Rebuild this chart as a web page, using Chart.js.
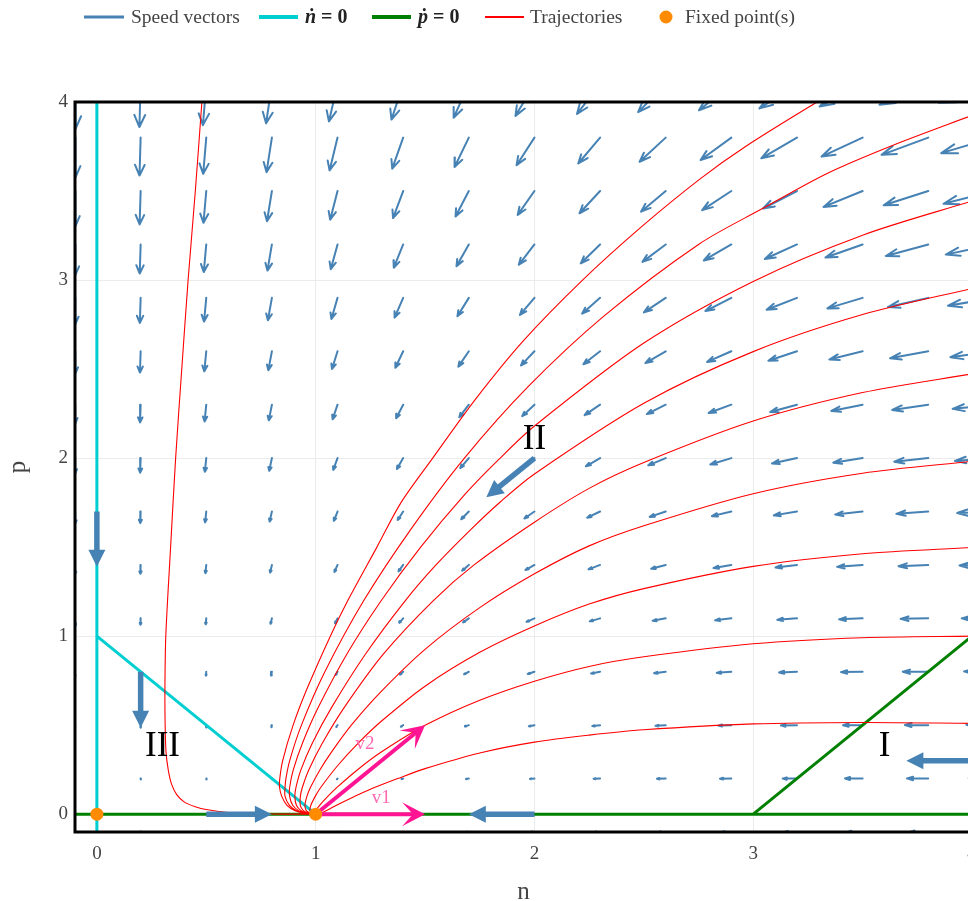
<!DOCTYPE html>
<html lang="en">
<head>
<meta charset="utf-8">
<title>Phase portrait (n, p)</title>
<script src="https://cdn.jsdelivr.net/npm/chart.js@4.4.1/dist/chart.umd.min.js"></script>
<style>
  html, body { margin: 0; padding: 0; background: #fff; overflow: hidden; }
  #frame { width: 968px; height: 901px; overflow: hidden; }
  #phase { display: block; }
</style>
</head>
<body>
<div id="frame"><canvas id="phase" width="1000" height="901" style="width:1000px;height:901px"></canvas></div>
<script>
// ---- grid of the speed field (arrow tails) ----
const gridN = [-0.1, 0.2, 0.5, 0.8, 1.1, 1.4, 1.7, 2.0, 2.3, 2.6, 2.9, 3.2, 3.5, 3.8, 4.1];
const gridP = [-0.1, 0.2, 0.5, 0.8, 1.1, 1.4, 1.7, 2.0, 2.3, 2.6, 2.9, 3.2, 3.5, 3.8, 4.1];

// speed along n (one row per p value of gridP, columns follow gridN)
const speedN = [
  [-0.12, 0.18, 0.3, 0.24, 0, -0.42, -1.02, -1.8, -2.76, -3.9, -5.22, -6.72, -8.4, -10.26, -12.3],
  [-0.09, 0.12, 0.15, 0, -0.33, -0.84, -1.53, -2.4, -3.45, -4.68, -6.09, -7.68, -9.45, -11.4, -13.53],
  [-0.06, 0.06, 0, -0.24, -0.66, -1.26, -2.04, -3, -4.14, -5.46, -6.96, -8.64, -10.5, -12.54, -14.76],
  [-0.03, 0, -0.15, -0.48, -0.99, -1.68, -2.55, -3.6, -4.83, -6.24, -7.83, -9.6, -11.55, -13.68, -15.99],
  [0, -0.06, -0.3, -0.72, -1.32, -2.1, -3.06, -4.2, -5.52, -7.02, -8.7, -10.56, -12.6, -14.82, -17.22],
  [0.03, -0.12, -0.45, -0.96, -1.65, -2.52, -3.57, -4.8, -6.21, -7.8, -9.57, -11.52, -13.65, -15.96, -18.45],
  [0.06, -0.18, -0.6, -1.2, -1.98, -2.94, -4.08, -5.4, -6.9, -8.58, -10.44, -12.48, -14.7, -17.1, -19.68],
  [0.09, -0.24, -0.75, -1.44, -2.31, -3.36, -4.59, -6, -7.59, -9.36, -11.31, -13.44, -15.75, -18.24, -20.91],
  [0.12, -0.3, -0.9, -1.68, -2.64, -3.78, -5.1, -6.6, -8.28, -10.14, -12.18, -14.4, -16.8, -19.38, -22.14],
  [0.15, -0.36, -1.05, -1.92, -2.97, -4.2, -5.61, -7.2, -8.97, -10.92, -13.05, -15.36, -17.85, -20.52, -23.37],
  [0.18, -0.42, -1.2, -2.16, -3.3, -4.62, -6.12, -7.8, -9.66, -11.7, -13.92, -16.32, -18.9, -21.66, -24.6],
  [0.21, -0.48, -1.35, -2.4, -3.63, -5.04, -6.63, -8.4, -10.35, -12.48, -14.79, -17.28, -19.95, -22.8, -25.83],
  [0.24, -0.54, -1.5, -2.64, -3.96, -5.46, -7.14, -9, -11.04, -13.26, -15.66, -18.24, -21, -23.94, -27.06],
  [0.27, -0.6, -1.65, -2.88, -4.29, -5.88, -7.65, -9.6, -11.73, -14.04, -16.53, -19.2, -22.05, -25.08, -28.29],
  [0.3, -0.66, -1.8, -3.12, -4.62, -6.3, -8.16, -10.2, -12.42, -14.82, -17.4, -20.16, -23.1, -26.22, -29.52]
];

// speed along p (same layout)
const speedP = [
  [0.3, 0.27, 0.24, 0.21, 0.18, 0.15, 0.12, 0.09, 0.06, 0.03, 0, -0.03, -0.06, -0.09, -0.12],
  [-0.66, -0.6, -0.54, -0.48, -0.42, -0.36, -0.3, -0.24, -0.18, -0.12, -0.06, 0, 0.06, 0.12, 0.18],
  [-1.8, -1.65, -1.5, -1.35, -1.2, -1.05, -0.9, -0.75, -0.6, -0.45, -0.3, -0.15, 0, 0.15, 0.3],
  [-3.12, -2.88, -2.64, -2.4, -2.16, -1.92, -1.68, -1.44, -1.2, -0.96, -0.72, -0.48, -0.24, 0, 0.24],
  [-4.62, -4.29, -3.96, -3.63, -3.3, -2.97, -2.64, -2.31, -1.98, -1.65, -1.32, -0.99, -0.66, -0.33, 0],
  [-6.3, -5.88, -5.46, -5.04, -4.62, -4.2, -3.78, -3.36, -2.94, -2.52, -2.1, -1.68, -1.26, -0.84, -0.42],
  [-8.16, -7.65, -7.14, -6.63, -6.12, -5.61, -5.1, -4.59, -4.08, -3.57, -3.06, -2.55, -2.04, -1.53, -1.02],
  [-10.2, -9.6, -9, -8.4, -7.8, -7.2, -6.6, -6, -5.4, -4.8, -4.2, -3.6, -3, -2.4, -1.8],
  [-12.42, -11.73, -11.04, -10.35, -9.66, -8.97, -8.28, -7.59, -6.9, -6.21, -5.52, -4.83, -4.14, -3.45, -2.76],
  [-14.82, -14.04, -13.26, -12.48, -11.7, -10.92, -10.14, -9.36, -8.58, -7.8, -7.02, -6.24, -5.46, -4.68, -3.9],
  [-17.4, -16.53, -15.66, -14.79, -13.92, -13.05, -12.18, -11.31, -10.44, -9.57, -8.7, -7.83, -6.96, -6.09, -5.22],
  [-20.16, -19.2, -18.24, -17.28, -16.32, -15.36, -14.4, -13.44, -12.48, -11.52, -10.56, -9.6, -8.64, -7.68, -6.72],
  [-23.1, -22.05, -21, -19.95, -18.9, -17.85, -16.8, -15.75, -14.7, -13.65, -12.6, -11.55, -10.5, -9.45, -8.4],
  [-26.22, -25.08, -23.94, -22.8, -21.66, -20.52, -19.38, -18.24, -17.1, -15.96, -14.82, -13.68, -12.54, -11.4, -10.26],
  [-29.52, -28.29, -27.06, -25.83, -24.6, -23.37, -22.14, -20.91, -19.68, -18.45, -17.22, -15.99, -14.76, -13.53, -12.3]
];

// ---- nullclines, as [n, p] vertices ----
const nNullAxis = [[0, -0.1], [0, 4.0]];
const nNullLine = [[0, 1], [1, 0]];
const pNullAxis = [[-0.1, 0], [4.0, 0]];
const pNullLine = [[3, 0], [4, 1]];

// ---- fixed points ----
const fixedN = [0, 1];
const fixedP = [0, 0];

// ---- trajectories, as [n, p] samples ----
const trajLeft = [[0.486, 4.1], [0.48, 4.0], [0.45, 3.5], [0.417, 3.0], [0.388, 2.5], [0.36, 2.0], [0.337, 1.5], [0.315, 1.0], [0.311, 0.7], [0.312, 0.5], [0.316, 0.35], [0.326, 0.25], [0.341, 0.17], [0.365, 0.11], [0.40, 0.068], [0.45, 0.042], [0.5, 0.026], [0.6, 0.0095], [0.7, 0.0034], [0.8, 0.0011], [0.9, 0.0003], [1, 0]];
const trajTop = [[3.43, 4.1], [3.292, 4.0], [2.965, 3.75], [2.756, 3.567], [2.49, 3.3], [2.22, 3.0], [1.95, 2.66], [1.73, 2.33], [1.535, 2.0], [1.39, 1.75], [1.28, 1.5], [1.147, 1.2], [1.067, 1.0], [0.959, 0.7], [0.897, 0.5], [0.849, 0.3], [0.836, 0.2], [0.835, 0.15], [0.845, 0.1], [0.869, 0.05], [0.906, 0.02], [0.948, 0.005], [0.975, 0.001], [1, 0]];
const traj40 = [[4.0, 3.925], [3.645, 3.76], [3.34, 3.6], [3.04, 3.4], [2.75, 3.2], [2.32, 2.8], [1.97, 2.4], [1.68, 2.0], [1.435, 1.6], [1.22, 1.2], [1.042, 0.8], [0.935, 0.5], [0.881, 0.3], [0.864, 0.2], [0.86, 0.15], [0.86, 0.1], [0.88, 0.05], [0.913, 0.02], [0.951, 0.005], [0.977, 0.001], [1, 0]];
const traj35 = [[4.0, 3.444], [3.5, 3.252], [3.0, 2.992], [2.5, 2.646], [2.0, 2.18], [1.835, 1.99], [1.685, 1.8], [1.48, 1.5], [1.30, 1.2], [1.143, 0.9], [1.012, 0.6], [0.94, 0.4], [0.898, 0.25], [0.881, 0.15], [0.881, 0.1], [0.895, 0.05], [0.922, 0.02], [0.956, 0.005], [0.979, 0.001], [1, 0]];
const traj30 = [[4.0, 2.953], [3.5, 2.806], [3.0, 2.598], [2.5, 2.308], [2.0, 1.911], [1.845, 1.755], [1.71, 1.6], [1.55, 1.4], [1.41, 1.2], [1.228, 0.9], [1.073, 0.6], [0.985, 0.4], [0.933, 0.25], [0.91, 0.15], [0.905, 0.1], [0.912, 0.05], [0.933, 0.02], [0.961, 0.005], [0.981, 0.001], [1, 0]];
const traj25 = [[4.0, 2.473], [3.5, 2.368], [3.0, 2.208], [2.5, 1.975], [2.25, 1.83], [2.0, 1.64], [1.724, 1.4], [1.538, 1.2], [1.31, 0.9], [1.131, 0.6], [1.031, 0.4], [0.969, 0.25], [0.939, 0.15], [0.93, 0.1], [0.93, 0.05], [0.944, 0.02], [0.967, 0.005], [0.984, 0.001], [1, 0]];
const traj20 = [[4.0, 1.982], [3.5, 1.915], [3.0, 1.80], [2.5, 1.62], [2.25, 1.507], [2.0, 1.35], [1.75, 1.16], [1.5, 0.926], [1.3, 0.69], [1.163, 0.5], [1.073, 0.35], [1.02, 0.25], [0.976, 0.15], [0.96, 0.1], [0.951, 0.05], [0.957, 0.02], [0.974, 0.005], [0.987, 0.001], [1, 0]];
const traj15 = [[4.0, 1.498], [3.5, 1.463], [3.0, 1.392], [2.5, 1.267], [2.25, 1.18], [2.0, 1.057], [1.75, 0.909], [1.5, 0.719], [1.3, 0.522], [1.2, 0.406], [1.1, 0.272], [1.023, 0.15], [0.998, 0.1], [0.978, 0.05], [0.974, 0.02], [0.982, 0.005], [0.991, 0.001], [1, 0]];
const traj10 = [[4.0, 1.0], [3.5, 0.991], [3.0, 0.957], [2.5, 0.884], [2.25, 0.83], [2.0, 0.747], [1.75, 0.64], [1.5, 0.499], [1.3, 0.349], [1.2, 0.258], [1.1, 0.153], [1.05, 0.093], [1.018, 0.05], [1.0, 0.02], [0.995, 0.005], [0.9965, 0.001], [1, 0]];
const traj05 = [[4.0, 0.51], [3.5, 0.515], [3.0, 0.507], [2.5, 0.474], [2.25, 0.444], [2.0, 0.405], [1.75, 0.344], [1.5, 0.256], [1.375, 0.2], [1.25, 0.14], [1.175, 0.098], [1.1, 0.053], [1.05, 0.021], [1.02, 0.0052], [1, 0]];
const trajectories = [trajLeft, trajTop, traj40, traj35, traj30, traj25, traj20, traj15, traj10, traj05];

// ---- direction-of-flow arrows: [tailN, tailP, tipN, tipP] ----
const flowArrows = [
  [0, 1.70, 0, 1.39],
  [0.2, 0.80, 0.2, 0.485],
  [0.5, 0, 0.8, 0],
  [2.0, 0, 1.7, 0],
  [2.0, 2.0, 1.78, 1.78],
  [4.0, 0.3, 3.7, 0.3]
];

// ---- eigenvectors at (1, 0) ----
const eigenArrows = [
  [1, 0, 1.5, 0],
  [1, 0, 1.5, 0.5]
];
const eigenNames = ['v1', 'v2'];
const eigenLabelN = [1.3, 1.225];
const eigenLabelP = [0.09, 0.395];

// ---- region names ----
const regionNames = ['I', 'II', 'III'];
const regionN = [3.6, 2.0, 0.3];
const regionP = [0.378, 2.1, 0.378];

// ---- axis ticks ----
const xTicks = [0, 1, 2, 3, 4];
const yTicks = [0, 1, 2, 3, 4];

// ================= drawing =================
const SERIF = "'Liberation Serif', 'Times New Roman', 'DejaVu Serif', serif";
const ARROW_SCALE = 0.0085;          // data units per unit of speed
const HEAD_RATIO = 0.3;              // head length relative to shaft
const HEAD_ANGLE = Math.PI / 9;
const GAP = { x: NaN, y: NaN };

const quiverPoints = [];
gridP.forEach((p, j) => {
  gridN.forEach((n, i) => {
    const du = speedN[j][i] * ARROW_SCALE;
    const dv = speedP[j][i] * ARROW_SCALE;
    const ex = n + du, ey = p + dv;
    const len = Math.hypot(du, dv) * HEAD_RATIO;
    const ang = Math.atan2(dv, du);
    quiverPoints.push({ x: n, y: p }, { x: ex, y: ey }, GAP);
    quiverPoints.push(
      { x: ex - len * Math.cos(ang + HEAD_ANGLE), y: ey - len * Math.sin(ang + HEAD_ANGLE) },
      { x: ex, y: ey },
      { x: ex - len * Math.cos(ang - HEAD_ANGLE), y: ey - len * Math.sin(ang - HEAD_ANGLE) },
      GAP
    );
  });
});

const toXY = pts => pts.map(([n, p]) => ({ x: n, y: p }));
const joinSegments = segs => segs.reduce((acc, s, k) => acc.concat(k ? [GAP] : [], toXY(s)), []);

const lineBase = { showLine: true, pointRadius: 0, pointHoverRadius: 0, tension: 0, clip: 0, spanGaps: false };

const datasets = [
  Object.assign({}, lineBase, {
    label: 'Speed vectors', data: quiverPoints, borderColor: 'steelblue', borderWidth: 2,
    borderCapStyle: 'round', borderJoinStyle: 'round', order: 5
  }),
  Object.assign({}, lineBase, {
    label: 'ṅ = 0', data: joinSegments([nNullAxis, nNullLine]), borderColor: 'darkturquoise', borderWidth: 3, order: 4
  }),
  Object.assign({}, lineBase, {
    label: 'ṗ = 0', data: joinSegments([pNullAxis, pNullLine]), borderColor: 'green', borderWidth: 3, order: 3
  }),
  Object.assign({}, lineBase, {
    label: 'Trajectories', data: joinSegments(trajectories), borderColor: 'red', borderWidth: 1.1,
    tension: 0.3, order: 2
  }),
  {
    label: 'Fixed point(s)', data: fixedN.map((n, k) => ({ x: n, y: fixedP[k] })),
    showLine: false, pointRadius: 6.5, pointHoverRadius: 6.5, backgroundColor: 'darkorange',
    borderWidth: 0, clip: false, order: 1
  }
];

function blockArrow(ctx, x0, y0, x1, y1, color, shaftW, headL, headW) {
  const dx = x1 - x0, dy = y1 - y0, L = Math.hypot(dx, dy), ux = dx / L, uy = dy / L;
  const bx = x1 - ux * headL, by = y1 - uy * headL;
  ctx.strokeStyle = color; ctx.fillStyle = color; ctx.lineWidth = shaftW; ctx.lineCap = 'butt';
  ctx.beginPath(); ctx.moveTo(x0, y0); ctx.lineTo(bx + ux, by + uy); ctx.stroke();
  ctx.beginPath();
  ctx.moveTo(x1, y1);
  ctx.lineTo(bx - uy * headW, by + ux * headW);
  ctx.lineTo(bx + uy * headW, by - ux * headW);
  ctx.closePath(); ctx.fill();
}

function sweptArrow(ctx, x0, y0, x1, y1, color, shaftW, headL, headW, notch) {
  const dx = x1 - x0, dy = y1 - y0, L = Math.hypot(dx, dy), ux = dx / L, uy = dy / L;
  const nx = x1 - ux * notch, ny = y1 - uy * notch;
  const bx = x1 - ux * headL, by = y1 - uy * headL;
  ctx.strokeStyle = color; ctx.fillStyle = color; ctx.lineWidth = shaftW; ctx.lineCap = 'butt';
  ctx.beginPath(); ctx.moveTo(x0, y0); ctx.lineTo(nx + ux * 2, ny + uy * 2); ctx.stroke();
  ctx.beginPath();
  ctx.moveTo(x1, y1);
  ctx.lineTo(bx - uy * headW, by + ux * headW);
  ctx.lineTo(nx, ny);
  ctx.lineTo(bx + uy * headW, by - ux * headW);
  ctx.closePath(); ctx.fill();
}

const overlay = {
  id: 'overlay',
  beforeDraw(chart) {
    const ctx = chart.ctx;
    ctx.save(); ctx.fillStyle = '#fff'; ctx.fillRect(0, 0, chart.width, chart.height); ctx.restore();
  },
  beforeDatasetDraw(chart, args) {
    // eigenvectors sit under the fixed-point markers
    if (args.meta.label !== 'Fixed point(s)') return;
    const { ctx, scales: { x, y } } = chart;
    ctx.save();
    eigenArrows.forEach(([n0, p0, n1, p1]) => {
      sweptArrow(ctx, x.getPixelForValue(n0), y.getPixelForValue(p0),
        x.getPixelForValue(n1), y.getPixelForValue(p1), '#ff1493', 4, 23, 12, 12);
    });
    ctx.restore();
  },
  afterDatasetsDraw(chart) {
    const { ctx, chartArea: a, scales: { x, y } } = chart;
    ctx.save();
    // plot frame
    ctx.strokeStyle = '#000'; ctx.lineWidth = 3;
    ctx.strokeRect(a.left, a.top, a.right - a.left, a.bottom - a.top);

    // flow direction arrows
    flowArrows.forEach(([n0, p0, n1, p1]) => {
      blockArrow(ctx, x.getPixelForValue(n0), y.getPixelForValue(p0),
        x.getPixelForValue(n1), y.getPixelForValue(p1), 'steelblue', 5.5, 17, 8.5);
    });

    ctx.font = `19px ${SERIF}`; ctx.fillStyle = '#ff69b4';
    ctx.textAlign = 'center'; ctx.textBaseline = 'middle';
    eigenNames.forEach((t, k) => ctx.fillText(t, x.getPixelForValue(eigenLabelN[k]), y.getPixelForValue(eigenLabelP[k])));

    // region names
    ctx.font = `35px ${SERIF}`; ctx.fillStyle = '#000';
    regionNames.forEach((t, k) => ctx.fillText(t, x.getPixelForValue(regionN[k]), y.getPixelForValue(regionP[k])));
    ctx.restore();
  },
  afterDraw(chart) {
    // legend row
    const ctx = chart.ctx, ly = 17;
    ctx.save();
    ctx.textBaseline = 'middle'; ctx.textAlign = 'left';
    const seg = (x0, x1, color, w) => {
      ctx.strokeStyle = color; ctx.lineWidth = w; ctx.lineCap = 'butt';
      ctx.beginPath(); ctx.moveTo(x0, ly); ctx.lineTo(x1, ly); ctx.stroke();
    };
    const plain = (t, tx) => { ctx.font = `19.5px ${SERIF}`; ctx.fillStyle = '#444'; ctx.fillText(t, tx, ly + 1); };
    const math = (sym, tx) => {
      ctx.fillStyle = '#222';
      ctx.font = `italic bold 20px ${SERIF}`; ctx.fillText(sym, tx, ly + 1);
      const w = ctx.measureText(sym).width;
      ctx.font = `bold 20px ${SERIF}`; ctx.fillText(' = 0', tx + w, ly + 1);
    };
    seg(84, 124, 'steelblue', 3); plain(datasets[0].label, 131);
    seg(259, 298, 'darkturquoise', 4); math('ṅ', 305);
    seg(372, 411, 'green', 4); math('ṗ', 418);
    seg(485, 524, 'red', 2); plain(datasets[3].label, 530);
    ctx.fillStyle = 'darkorange'; ctx.beginPath(); ctx.arc(666, ly, 6.5, 0, Math.PI * 2); ctx.fill();
    plain(datasets[4].label, 685);
    ctx.restore();
  }
};

Chart.defaults.font.family = SERIF;

new Chart(document.getElementById('phase'), {
  type: 'scatter',
  data: { datasets },
  options: {
    responsive: false,
    animation: false,
    devicePixelRatio: 1,
    events: [],
    layout: { padding: { top: 102, right: 28, left: 0, bottom: 0 } },
    plugins: { legend: { display: false }, tooltip: { enabled: false } },
    scales: {
      x: {
        type: 'linear', min: -0.1, max: 4,
        afterBuildTicks: s => { s.ticks = xTicks.map(v => ({ value: v })); },
        afterFit: s => { s.height = 69; s.paddingLeft = 0; s.paddingRight = 0; },
        grid: { color: '#ebebeb', lineWidth: 1, drawTicks: false },
        border: { display: false },
        ticks: { padding: 11, color: '#444', font: { size: 19 }, callback: v => String(v), maxRotation: 0 },
        title: { display: true, text: 'n', color: '#444', font: { size: 25, lineHeight: 0.7 }, padding: { top: 0, bottom: 0 } }
      },
      y: {
        type: 'linear', min: -0.1, max: 4,
        afterBuildTicks: s => { s.ticks = yTicks.map(v => ({ value: v })); },
        afterFit: s => { s.width = 75; s.paddingTop = 0; s.paddingBottom = 0; },
        grid: { color: '#ebebeb', lineWidth: 1, drawTicks: false },
        border: { display: false },
        ticks: { padding: 7, color: '#444', font: { size: 19 }, callback: v => String(v) },
        title: { display: true, text: 'p', color: '#444', font: { size: 25, lineHeight: 1 }, padding: { top: 6, bottom: 0 } }
      }
    }
  },
  plugins: [overlay]
});
</script>
</body>
</html>
